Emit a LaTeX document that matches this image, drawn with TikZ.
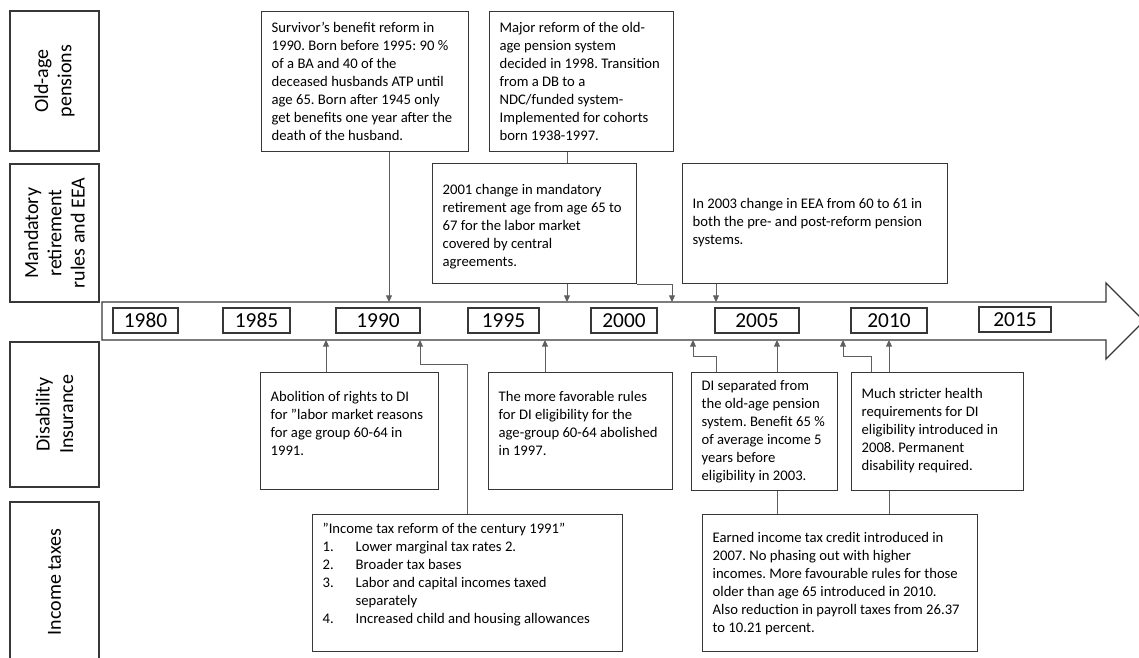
\documentclass[tikz,border=0pt]{standalone}
\usepackage{fontspec}
\setmainfont{Carlito}
\usetikzlibrary{arrows.meta}
\frenchspacing
\newlength\pxu \setlength\pxu{0.75pt}
\newcommand{\evp}[4]{\parbox[c][#2\pxu][t]{\dimexpr #1\pxu-20\pxu\relax}{\vspace*{#3\pxu}\begin{tabular}[t]{@{}l@{}}#4\end{tabular}}}
\newcommand{\evq}[4]{\parbox[c][#2\pxu][t]{\dimexpr #1\pxu-20\pxu\relax}{\vspace*{#3\pxu}#4}}
\definecolor{boxc}{RGB}{55,55,55}
\definecolor{linec}{RGB}{95,95,95}
\begin{document}
\begin{tikzpicture}[x=0.75pt,y=-0.75pt,
  cat/.style={draw=boxc,line width=1pt,rotate=90,align=center,inner sep=0pt,
    font=\fontsize{15}{17.5}\selectfont},
  yr/.style={draw=boxc,line width=1pt,inner sep=0pt,minimum height=25*0.75pt,
    font=\fontsize{16}{18}\selectfont},
  ev/.style={draw=boxc,line width=1pt,anchor=north west,inner xsep=10*0.75pt,inner ysep=0pt,
    font=\fontsize{11}{13.5}\selectfont},
  conn/.style={draw=linec,line width=0.7pt},
  arr/.style={conn,-{Triangle[length=5pt,width=4.5pt]}}]
\clip (0,0) rectangle (1139,657);
\fill[white] (0,0) rectangle (1139,657);

% category boxes
\node[cat,minimum width=140*0.75pt,minimum height=89*0.75pt] (c1) at (54.5,81) {Old-age\\pensions};
\node[cat,minimum width=138*0.75pt,minimum height=89*0.75pt] (c2) at (54.5,233) {Mandatory\\retirement\\rules and EEA};
\node[cat,minimum width=145*0.75pt,minimum height=89*0.75pt] (c3) at (54.5,414.5) {Disability\\Insurance};
\node[cat,minimum width=160*0.75pt,minimum height=89*0.75pt] (c4) at (54.5,582) {Income taxes};

% timeline arrow
\draw[boxc,line width=1pt] (102,302) -- (1106,302) -- (1106,283) -- (1144,321) -- (1106,359) -- (1106,340) -- (102,340) -- cycle;

% years
\node[yr,minimum width=65*0.75pt] (y1980) at (145.5,320.5) {1980};
\node[yr,minimum width=67*0.75pt] (y1985) at (256.5,320.5) {1985};
\node[yr,minimum width=84*0.75pt] (y1990) at (378,320.5) {1990};
\node[yr,minimum width=71*0.75pt] (y1995) at (503.5,320.5) {1995};
\node[yr,minimum width=66*0.75pt] (y2000) at (624,320.5) {2000};
\node[yr,minimum width=84*0.75pt] (y2005) at (757,320.5) {2005};
\node[yr,minimum width=76*0.75pt] (y2010) at (889,320.5) {2010};
\node[yr,minimum width=72*0.75pt] (y2015) at (1015,319.5) {2015};

% event boxes
\node[ev] (surv) at (261,11) {\evp{207}{140}{8}{Survivor’s benefit reform in\\1990. Born before 1995: 90 \%\\of a BA and 40 of the\\deceased husbands ATP until\\age 65. Born after 1945 only\\get benefits one year after the\\death of the husband.}};
\node[ev] (major) at (489,11) {\evp{184}{140}{8}{Major reform of the old-\\age pension system\\decided in 1998. Transition\\from a DB to a\\NDC/funded system-\\Implemented for cohorts\\born 1938-1997.}};
\node[ev] (mand) at (432,163) {\evp{204}{120}{18.4}{2001 change in mandatory\\retirement age from age 65 to\\67 for the labor market\\covered by central\\agreements.}};
\node[ev] (eea) at (682,163) {\evp{265}{120}{32.4}{In 2003 change in EEA from 60 to 61 in\\both the pre- and post-reform pension\\systems.}};
\node[ev] (abol) at (260,372) {\evp{178}{117}{16.4}{Abolition of rights to DI\\for ”labor market reasons\\for age group 60-64 in\\1991.}};
\node[ev] (fav) at (488,372) {\evp{184}{117}{16.4}{The more favorable rules\\for DI eligibility for the\\age-group 60-64 abolished\\in 1997.}};
\node[ev] (disep) at (691,372) {\evp{146}{118}{5.4}{DI separated from\\the old-age pension\\system. Benefit 65 \%\\of average income 5\\years before\\eligibility in 2003.}};
\node[ev] (strict) at (851,372) {\evp{172}{118}{13.4}{Much stricter health\\requirements for DI\\eligibility introduced in\\2008. Permanent\\disability required.}};
\node[ev] (itax) at (312,514) {\evq{310}{137}{6.4}{\begin{tabular}[t]{@{}p{24.75pt}@{}l@{}}\multicolumn{2}{@{}l@{}}{”Income tax reform of the century 1991”}\\1.&Lower marginal tax rates 2.\\2.&Broader tax bases\\3.&Labor and capital incomes taxed\\&separately\\4.&Increased child and housing allowances\end{tabular}}};
\node[ev] (eitc) at (702,514) {\evp{275}{137}{15.4}{Earned income tax credit introduced in\\2007. No phasing out with higher\\incomes. More favourable rules for those\\older than age 65 introduced in 2010.\\Also reduction in payroll taxes from 26.37\\to 10.21 percent.}};

% timeline anchor points
\coordinate (t389) at (389,302);
\coordinate (t567) at (567,302);
\coordinate (t672) at (672,302);
\coordinate (t716) at (716,302);
\coordinate (b326) at (326,340);
\coordinate (b420) at (420,340);
\coordinate (b545) at (545,340);
\coordinate (b693) at (693,340);
\coordinate (b777) at (777,340);
\coordinate (b843) at (843,340);
\coordinate (b889) at (889,340);
\coordinate (k1) at (467,364);
\coordinate (k2) at (716,356);
\coordinate (k3) at (871,356);

% connectors above
\draw[arr] (surv.south -| t389) -- (t389);
\draw[conn] (major.south -| t567) -- (mand.north -| t567);
\draw[arr] (mand.south -| t567) -- (t567);
\draw[arr] (mand.south east) -| (t672);
\draw[arr] (eea.south -| t716) -- (t716);

% connectors below
\draw[arr] (abol.north -| b326) -- (b326);
\draw[arr] (itax.north -| k1) -- (k1) -| (b420);
\draw[arr] (fav.north -| b545) -- (b545);
\draw[arr] (disep.north -| k2) -- (k2) -| (b693);
\draw[conn] (eitc.north -| b777) -- (disep.south -| b777);
\draw[arr] (disep.north -| b777) -- (b777);
\draw[arr] (strict.north -| k3) -- (k3) -| (b843);
\draw[conn] (eitc.north -| b889) -- (strict.south -| b889);
\draw[arr] (strict.north -| b889) -- (b889);
\end{tikzpicture}
\end{document}
